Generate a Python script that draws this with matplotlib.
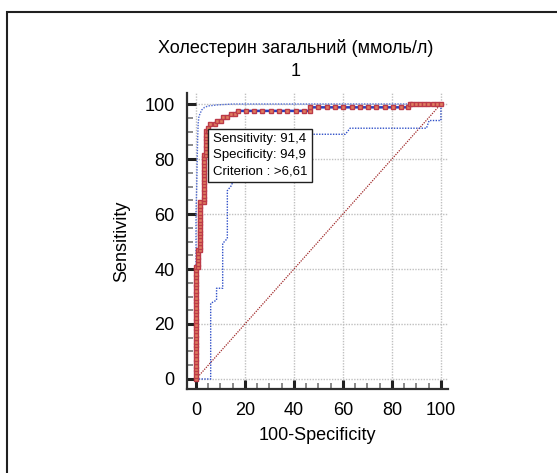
import matplotlib
matplotlib.use("Agg")
import matplotlib.pyplot as plt
from matplotlib.patches import Rectangle
from matplotlib.ticker import MultipleLocator

plt.rcParams['font.family'] = ['Liberation Sans', 'DejaVu Sans']

# ROC curve points (100-Specificity, Sensitivity)
roc_fpr = [0.0, 0.0, 0.0, 0.0, 0.0, 0.0, 0.0, 0.0, 0.0, 0.0, 0.0, 0.0, 0.0, 0.0, 0.0, 0.0, 0.0,
           0.0, 0.0, 0.0, 0.0, 0.0, 0.0, 0.0, 0.0, 0.0, 0.0, 0.0, 0.0, 0.0, 0.0, 0.0, 0.0, 0.0,
           0.85, 0.85, 0.85, 0.85, 0.85, 0.85,
           1.7, 1.7, 1.7, 1.7, 1.7, 1.7, 1.7, 1.7, 1.7, 1.7, 1.7, 1.7, 1.7, 1.7, 1.7,
           3.4, 3.4, 3.4, 3.4, 3.4, 3.4, 3.4, 3.4, 3.4, 3.4, 3.4, 3.4, 3.4, 3.4, 3.4,
           4.2, 4.2, 4.2, 4.2, 4.2, 4.2, 4.2, 4.2,
           5.1, 5.1,
           5.9, 7.6, 8.5, 10.2, 11.0, 12.7, 14.4, 16.1,
           17.0, 20.3, 23.7, 27.1, 30.5, 33.9, 37.3, 40.7, 44.1, 46.6,
           46.6, 50.0, 53.4, 56.8, 60.2, 63.6, 67.0, 70.3, 73.7, 77.1, 80.5, 83.9, 86.4,
           87.3, 88.1, 89.8, 91.5, 93.2, 94.9, 96.6, 98.3, 100.0]
roc_tpr = [0.0, 1.2, 2.5, 3.7, 4.9, 6.2, 7.4, 8.6, 9.9, 11.1, 12.3, 13.6, 14.8, 16.0, 17.3, 18.5, 19.8,
           21.0, 22.2, 23.5, 24.7, 25.9, 27.2, 28.4, 29.6, 30.9, 32.1, 33.3, 34.6, 35.8, 37.0, 38.3, 39.5, 40.7,
           40.7, 42.0, 43.2, 44.4, 45.7, 46.9,
           46.9, 48.1, 49.4, 50.6, 51.9, 53.1, 54.3, 55.6, 56.8, 58.0, 59.3, 60.5, 61.7, 63.0, 64.2,
           64.2, 65.4, 66.7, 67.9, 69.1, 70.4, 71.6, 72.8, 74.1, 75.3, 76.5, 77.8, 79.0, 80.2, 81.5,
           81.5, 82.7, 84.0, 85.2, 86.4, 87.7, 88.9, 90.1,
           90.1, 91.4,
           92.6, 92.6, 93.8, 93.8, 95.1, 95.1, 96.3, 96.3,
           97.5, 97.5, 97.5, 97.5, 97.5, 97.5, 97.5, 97.5, 97.5, 97.5,
           98.8, 98.8, 98.8, 98.8, 98.8, 98.8, 98.8, 98.8, 98.8, 98.8, 98.8, 98.8, 98.8,
           100.0, 100.0, 100.0, 100.0, 100.0, 100.0, 100.0, 100.0, 100.0]

# 95% confidence bounds
ci_upper_fpr = [0, 0, 0.3, 0.5, 0.7, 0.9, 1.2, 2.3, 3.5, 5.0, 9.0, 15.0, 100]
ci_upper_tpr = [0, 60, 70, 80, 88, 93, 95.5, 97.8, 98.8, 99.3, 99.7, 100, 100]
ci_lower_fpr = [0, 6.0, 6.0, 8.4, 8.4, 10.9, 10.9, 12.8, 12.8, 14.6, 17, 20, 25, 47, 61,
                62.9, 94.1, 95.2, 99.6, 100, 100]
ci_lower_tpr = [0, 0, 27.5, 28.7, 33.0, 33.0, 49.3, 51.1, 68.5, 70.5, 80, 86, 88, 89.0, 89.0,
                91.2, 91.2, 94.0, 94.0, 94.0, 100]

diag = [0, 100]
ticks = [0, 20, 40, 60, 80, 100]

crit_fpr, crit_tpr = 5.1, 91.4
box_text = "Sensitivity: 91,4\nSpecificity: 94,9\nCriterion : >6,61"

fig = plt.figure(figsize=(5.57, 4.73), dpi=100)
ax = fig.add_axes([187 / 557, 1 - 389 / 473, (448 - 187) / 557, (389 - 93.3) / 473])

ax.set_xlim(-3.67, 102.9)
ax.set_ylim(-3.64, 103.9)

ax.grid(True, which='major', color='#c0c0c0', linestyle=(0, (1, 1)), linewidth=1.0, zorder=0)

ax.plot(diag, diag, color='#a02828', linestyle=(0, (1, 1)), linewidth=0.9, zorder=2)
ax.plot(ci_upper_fpr, ci_upper_tpr, color='#4a66d0', linestyle=(0, (1, 1)), linewidth=1.0, zorder=3)
ax.plot(ci_lower_fpr, ci_lower_tpr, color='#3050c8', linestyle=(0, (1, 1)), linewidth=1.0, zorder=3)

ax.plot(roc_fpr, roc_tpr, color='#2840c0', linewidth=1.8, zorder=4)
ax.plot(roc_fpr, roc_tpr, linestyle='none', marker='s', markersize=3.2,
        markerfacecolor='#e08060', markeredgecolor='#bc3a48', markeredgewidth=1.0, zorder=5)

ax.annotate(box_text, xy=(crit_fpr, crit_tpr), xytext=(3, -4), textcoords='offset points',
            ha='left', va='top', fontsize=9.5, linespacing=1.45, zorder=10,
            bbox=dict(boxstyle='square,pad=0.35', facecolor='white', edgecolor='#202020', linewidth=1.0))

ax.set_xticks(ticks)
ax.set_yticks(ticks)
ax.xaxis.set_minor_locator(MultipleLocator(5))
ax.yaxis.set_minor_locator(MultipleLocator(5))
ax.tick_params(which='major', direction='in', length=6.5, width=2.2, color='#202020',
               labelsize=13, pad=9)
ax.tick_params(which='minor', direction='in', length=4.3, width=1.3, color='#808080')

for side in ['top', 'right']:
    ax.spines[side].set_visible(False)
for side in ['left', 'bottom']:
    ax.spines[side].set_linewidth(1.6)
    ax.spines[side].set_color('#303030')

ax.set_xlabel("100-Specificity", fontsize=13, labelpad=6)
ax.set_ylabel("Sensitivity", fontsize=13, labelpad=10)

fig.text(296 / 557, 1 - 48 / 473, "Холестерин загальний (ммоль/л)", ha='center', va='center', fontsize=13)
fig.text(296 / 557, 1 - 72 / 473, "1", ha='center', va='center', fontsize=13)

# outer frame
fig.add_artist(Rectangle((7 / 557, -0.1), 1.2, 1.1 - 12 / 473, transform=fig.transFigure,
                         fill=False, edgecolor='#202020', linewidth=1.5))

fig.savefig("out.png", dpi=100)
